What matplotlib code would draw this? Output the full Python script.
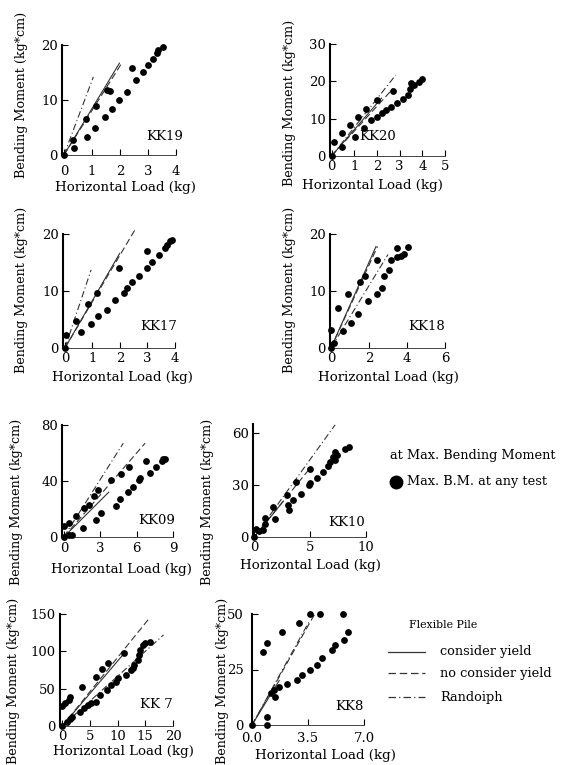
import matplotlib
matplotlib.use("Agg")
import matplotlib.pyplot as plt
from matplotlib.lines import Line2D

plt.rcParams['font.family'] = ['DejaVu Serif']

W, H = 561, 765

# ---------------- data ----------------
kk19_x = [0, 0.31, 0.35, 0.79, 1.14, 1.55, 1.65, 0.81, 1.1, 1.46, 1.7, 1.95, 2.24, 2.42, 2.57, 2.81, 3.01, 3.19, 3.31, 3.37, 3.55]
kk19_y = [0, 2.7, 1.2, 6.5, 8.9, 11.8, 11.6, 3.3, 5.0, 7.0, 8.4, 10.0, 11.5, 15.9, 13.6, 15.1, 16.4, 17.4, 18.5, 19.1, 19.7]
kk19_lines = {'solid': (1.98, 16.7), 'dashed': (2.05, 16.6), 'dashdot': (1.05, 14.2)}

kk20_x = [0, 0.1, 0.47, 0.47, 0.81, 1.02, 1.16, 1.5, 1.43, 1.99, 1.73, 2.02, 2.24, 2.39, 2.64, 2.9, 3.13, 3.38, 3.46, 3.5, 3.64, 3.86, 4.0, 2.69]
kk20_y = [0, 3.8, 6.1, 2.5, 8.3, 5.2, 10.5, 12.5, 7.4, 15.0, 9.6, 10.5, 11.4, 12.3, 13.0, 14.1, 15.2, 16.4, 17.9, 19.6, 19.0, 19.9, 20.5, 17.5]
kk20_lines = {'solid': (2.2, 15.5), 'dashed': (2.7, 18.0), 'dashdot': (2.83, 21.7)}

kk17_x = [0, 0.04, 0.4, 0.59, 0.85, 0.93, 1.2, 1.17, 1.54, 1.81, 1.95, 2.15, 2.24, 2.45, 2.7, 2.98, 3.16, 2.98, 3.42, 3.64, 3.7, 3.82, 3.9]
kk17_y = [0, 2.3, 4.8, 2.75, 7.8, 4.2, 5.7, 9.7, 6.7, 8.4, 14.0, 9.7, 10.6, 11.5, 12.7, 14.0, 15.0, 17.1, 16.4, 17.6, 18.1, 18.8, 19.0]
kk17_lines = {'solid': (1.99, 16.6), 'dashed': (2.54, 20.7), 'dashdot': (0.95, 13.7)}

kk18_x = [0, 0.14, 0.0, 0.39, 0.61, 0.88, 1.05, 1.44, 1.54, 1.79, 1.93, 2.42, 2.42, 2.67, 2.81, 3.07, 3.16, 3.47, 3.47, 3.68, 3.82, 4.04]
kk18_y = [0, 0.9, 3.2, 7.0, 3.0, 9.5, 4.4, 6.0, 11.6, 12.7, 8.2, 9.5, 15.5, 10.6, 12.6, 13.6, 15.5, 17.5, 15.9, 16.1, 16.5, 17.8]
kk18_lines = {'solid': (2.37, 17.8), 'dashed': (2.45, 17.8), 'dashdot': (3.0, 16.4)}

kk09_x = [0, 0, 0.44, 0.7, 0.44, 1.0, 1.56, 1.69, 2.1, 2.47, 2.8, 2.67, 3.03, 3.92, 4.33, 4.6, 4.75, 5.36, 5.25, 5.72, 6.2, 6.3, 6.75, 7.1, 7.58, 8.1, 8.2, 8.3]
kk09_y = [0, 7.6, 1.6, 1.6, 10.0, 15.2, 6.4, 20.6, 23.0, 29.4, 33.7, 12.3, 17.1, 40.8, 21.8, 27.0, 45.1, 49.9, 32.5, 35.6, 40.8, 42.0, 54.6, 46.0, 49.9, 54.6, 55.5, 56.0]
kk09_lines = {'solid': (3.7, 32.0), 'dashed': (6.7, 67.0), 'dashdot': (4.9, 67.0)}

kk10_x = [0, 0.18, 0.48, 0.8, 0.93, 0.99, 1.68, 1.83, 2.97, 3.03, 3.1, 3.48, 3.78, 4.23, 4.89, 4.98, 4.98, 5.59, 6.19, 6.64, 6.79, 7.09, 7.24, 7.2, 7.39, 8.14, 8.44]
kk10_y = [0, 4.8, 3.5, 4.2, 7.7, 11.2, 17.3, 10.6, 24.0, 18.3, 15.6, 21.2, 31.7, 25.0, 29.8, 38.9, 31.2, 33.7, 37.5, 40.8, 43.3, 46.2, 49.0, 44.5, 47.0, 50.4, 51.9]
kk10_lines = {'solid': (2.6, 20.5), 'dashed': (5.1, 40.4), 'dashdot': (7.24, 64.5)}

kk7_x = [0, 0, 0.55, 1.16, 1.46, 0.85, 1.46, 1.77, 3.6, 3.29, 3.9, 4.63, 5.12, 6.03, 6.03, 7.26, 6.82, 8.28, 8.04, 8.78, 9.69, 10.0, 11.1, 11.5, 12.4, 13.0, 13.7, 13.8, 14.1, 14.6, 15.0, 15.8, 12.8]
kk7_y = [0, 26.8, 30.4, 34.8, 38.4, 5.8, 9.0, 12.5, 51.8, 19.2, 23.7, 28.1, 30.4, 32.6, 66.0, 75.9, 41.5, 84.7, 48.2, 54.9, 59.3, 63.9, 97.3, 68.3, 75.0, 81.7, 88.4, 95.0, 101.7, 108.4, 111.5, 112.9, 78.0]
kk7_lines = {'solid': (11.5, 100.0), 'dashed': (15.8, 145.0), 'dashdot': (18.3, 122.0)}

kk8_x = [0, 0.66, 0.93, 1.89, 2.92, 3.6, 4.26, 5.7, 6.0, 5.74, 5.19, 4.98, 4.36, 4.06, 3.64, 3.13, 2.82, 2.16, 1.69, 1.38, 1.17, 1.42, 0.93, 0.93]
kk8_y = [0, 33.0, 37.1, 41.8, 46.1, 50.0, 50.0, 50.0, 42.0, 38.3, 36.0, 33.8, 30.0, 27.0, 24.8, 22.5, 20.3, 18.5, 17.0, 15.8, 14.3, 12.5, 3.5, 0.0]
kk8_lines = {'solid': (1.7, 20.0), 'dashed': (4.0, 51.0), 'dashdot': (3.6, 47.0)}

# panel layout: name, x, y, lines, xlim, ylim, xticks, xticklabels, yticks, yticklabels, pixel box (l, r, bottom, top)
panels = [
    ('KK19', kk19_x, kk19_y, kk19_lines, (-0.07, 4.0), (0, 20), [0, 1, 2, 3, 4], ['0', '1', '2', '3', '4'], [0, 10, 20], ['0', '10', '20'], (62, 176, 155, 45)),
    ('KK20', kk20_x, kk20_y, kk20_lines, (-0.07, 5.0), (0, 30), [0, 1, 2, 3, 4, 5], ['0', '1', '2', '3', '4', '5'], [0, 10, 20, 30], ['0', '10', '20', '30'], (330, 445, 156, 44)),
    ('KK17', kk17_x, kk17_y, kk17_lines, (-0.07, 4.0), (0, 20), [0, 1, 2, 3, 4], ['0', '1', '2', '3', '4'], [0, 10, 20], ['0', '10', '20'], (63, 175, 348, 234)),
    ('KK18', kk18_x, kk18_y, kk18_lines, (-0.05, 6.0), (0, 20), [0, 2, 4, 6], ['0', '2', '4', '6'], [0, 10, 20], ['0', '10', '20'], (330, 445, 348, 234)),
    ('KK09', kk09_x, kk09_y, kk09_lines, (-0.15, 9.0), (0, 80), [0, 3, 6, 9], ['0', '3', '6', '9'], [0, 40, 80], ['0', '40', '80'], (62, 173, 537, 425)),
    ('KK10', kk10_x, kk10_y, kk10_lines, (-0.1, 10.0), (0, 65), [0, 5, 10], ['0', '5', '10'], [0, 30, 60], ['0', '30', '60'], (253, 366, 537, 424)),
    ('KK 7', kk7_x, kk7_y, kk7_lines, (-0.4, 20.0), (0, 150), [0, 5, 10, 15, 20], ['0', '5', '10', '15', '20'], [0, 50, 100, 150], ['0', '50', '100', '150'], (60, 173, 726, 614)),
    ('KK8', kk8_x, kk8_y, kk8_lines, (0, 7.0), (0, 50), [0, 3.5, 7.0], ['0.0', '3.5', '7.0'], [0, 25, 50], ['0', '25', '50'], (252, 364, 725, 614)),
]

# label positions (pixels): ylabel (x, y), xlabel (x, y), name (x, y); tick pads (x, y)
ylabel_pos = [(22, 95), (290, 103), (22, 290), (290, 290), (17, 502), (208, 502), (14, 681), (222, 681)]
xlabel_pos = [(125, 187), (372, 185), (122, 378), (388, 378), (121, 570), (310, 566), (123, 752), (325, 756)]
name_pos = [(165, 137), (378, 137), (159, 327), (427, 327), (157, 520), (347, 522), (156, 704), (349, 707)]
tick_pads = [(7, 3), (3, 3), (3, 3), (3, 3), (3.5, 3), (3, 3), (3, 3), (5, 6)]

fig = plt.figure(figsize=(W / 100, H / 100), dpi=100)
FS = 9.6
YFS = 9.2
TFS = 9.5
styles = {'solid': '-', 'dashed': (0, (6, 3)), 'dashdot': (0, (6, 2.5, 1, 2.5))}

for i, (name, xs, ys, lines, xl, yl, xt, xtl, yt, ytl, box) in enumerate(panels):
    l, r, b, t = box
    ax = fig.add_axes([l / W, 1 - b / H, (r - l) / W, (b - t) / H])
    ax.set_xlim(*xl)
    ax.set_ylim(*yl)
    for sp in ['top', 'right']:
        ax.spines[sp].set_visible(False)
    ax.spines['left'].set_linewidth(1.5)
    ax.spines['bottom'].set_linewidth(0.7)
    ax.spines['bottom'].set_color('#444444')
    ax.set_xticks(xt)
    ax.set_xticklabels(xtl)
    ax.set_yticks(yt)
    ax.set_yticklabels(ytl)
    ax.tick_params(direction='in', length=4, width=0.8, labelsize=TFS)
    ax.tick_params(axis='x', pad=tick_pads[i][0])
    ax.tick_params(axis='y', pad=tick_pads[i][1])
    ax.patch.set_alpha(0)
    for key, (xe, ye) in lines.items():
        ax.plot([0, xe], [0, ye], color='#333333', lw=0.8, linestyle=styles[key], clip_on=False)
    ax.scatter(xs, ys, s=24, color='black', zorder=5, clip_on=False, linewidths=0)
    fig.text(name_pos[i][0] / W, 1 - name_pos[i][1] / H, name, ha='center', va='center', fontsize=9.5)
    fig.text(ylabel_pos[i][0] / W, 1 - ylabel_pos[i][1] / H, 'Bending Moment (kg*cm)', rotation=90, ha='center', va='center', fontsize=YFS)
    fig.text(xlabel_pos[i][0] / W, 1 - xlabel_pos[i][1] / H, 'Horizontal Load (kg)', ha='center', va='center', fontsize=FS)

# legend area
LFS = 9.3
fig.text(473 / W, 1 - 455 / H, 'at Max. Bending Moment', ha='center', va='center', fontsize=LFS)
fig.add_artist(Line2D([396 / W], [1 - 482 / H], marker='o', markersize=9, color='black', transform=fig.transFigure))
fig.text(407 / W, 1 - 482 / H, 'Max. B.M. at any test', ha='left', va='center', fontsize=LFS)

fig.text(443 / W, 1 - 625 / H, 'Flexible Pile', ha='center', va='center', fontsize=7.8)
leg_items = [('solid', 'consider yield', 652), ('dashed', 'no consider yield', 673), ('dashdot', 'Randoiph', 697)]
for key, lab, yy in leg_items:
    fig.add_artist(Line2D([388 / W, 425 / W], [1 - yy / H, 1 - yy / H], color='#333333', lw=0.9,
                          linestyle=styles[key], transform=fig.transFigure))
    fig.text(440 / W, 1 - yy / H, lab, ha='left', va='center', fontsize=LFS)

fig.savefig('out.png', dpi=100)
